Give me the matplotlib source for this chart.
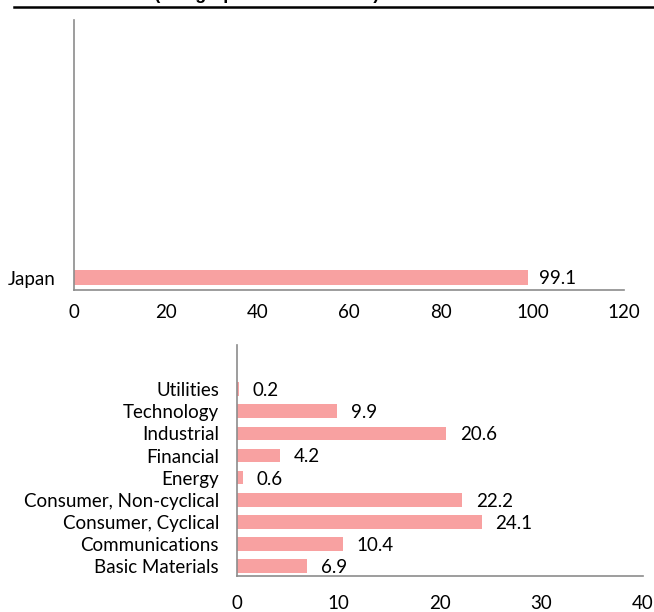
import matplotlib.pyplot as plt

# data
regions = ['Japan']
region_values = [99.1]

sectors = ['Basic Materials', 'Communications', 'Consumer, Cyclical',
           'Consumer, Non-cyclical', 'Energy', 'Financial', 'Industrial',
           'Technology', 'Utilities']
sector_values = [6.9, 10.4, 24.1, 22.2, 0.6, 4.2, 20.6, 9.9, 0.2]

bar_color = '#F8A1A1'
spine_color = '#8C8C8C'
fs = 13.5
plt.rcParams['font.family'] = ['Lato', 'DejaVu Sans']

fig = plt.figure(figsize=(6.54, 6.12), dpi=100)

# header, cut off at the top like the source
fig.text(14 / 654, 1.0 + 1 / 612, 'Fund Allocation (Geographical and Sector)',
         fontsize=13, fontweight='bold', family='Liberation Sans',
         va='baseline', ha='left')
fig.add_artist(plt.Line2D([14 / 654, 1.0], [1 - 7 / 612, 1 - 7 / 612],
                          color='black', linewidth=1.8))


def style(ax, xpad):
    for s in ['top', 'right']:
        ax.spines[s].set_visible(False)
    for s in ['left', 'bottom']:
        ax.spines[s].set_color(spine_color)
        ax.spines[s].set_linewidth(1.2)
    ax.tick_params(axis='both', length=0, labelsize=fs)
    ax.tick_params(axis='x', pad=xpad)
    ax.tick_params(axis='y', pad=13)


# top: geographical
ax1 = fig.add_axes([74 / 654, 322 / 612, 550 / 654, 270 / 612])
ax1.barh(regions, region_values, height=0.6, color=bar_color)
ax1.set_xlim(0, 120)
ax1.set_xticks(range(0, 121, 20))
ax1.set_ylim(-0.5, 10.3)
style(ax1, 10)
for i, v in enumerate(region_values):
    ax1.annotate(f'{v}', (v, i), xytext=(8, -1), textcoords='offset points',
                 va='center', fontsize=fs)

# bottom: sector
ax2 = fig.add_axes([237 / 654, 36 / 612, 406 / 654, 231 / 612])
ax2.barh(sectors, sector_values, height=0.62, color=bar_color)
ax2.set_xlim(0, 40)
ax2.set_xticks(range(0, 41, 10))
ax2.set_ylim(-0.45, 10)
style(ax2, 14)
for i, v in enumerate(sector_values):
    ax2.annotate(f'{v}', (v, i), xytext=(10, -1), textcoords='offset points',
                 va='center', fontsize=fs)

fig.savefig('out.png', dpi=100)
